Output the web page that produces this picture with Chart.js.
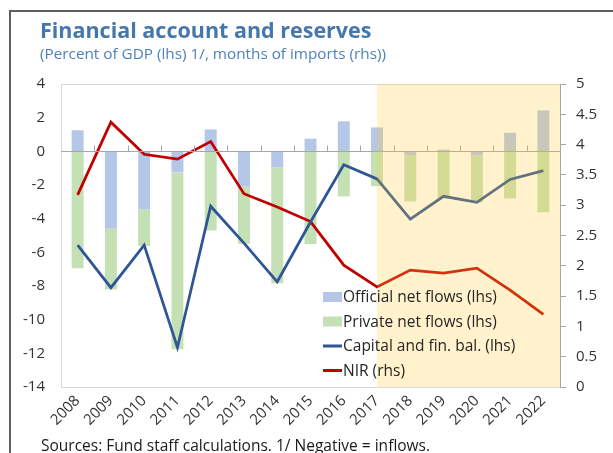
<!DOCTYPE html>
<html>
<head>
<meta charset="utf-8">
<script src="https://cdn.jsdelivr.net/npm/chart.js@4.4.1/dist/chart.umd.min.js"></script>
<style>
  html, body { margin: 0; padding: 0; background: #fff; }
  #wrap { position: relative; width: 613px; height: 453px; overflow: hidden; font-family: "Open Sans", sans-serif; }
  #frame { position: absolute; left: 9px; top: 10px; width: 700px; height: 500px; border-top: 2px solid #5f5f5f; border-left: 2px solid #5f5f5f; }
  canvas { position: absolute; left: 0; top: 0; }
  .t { position: absolute; white-space: nowrap; }
  #title { left: 40px; top: 15px; font-size: 21.5px; font-weight: bold; color: #4677ab; }
  #sub { left: 40px; top: 43px; font-size: 15.3px; color: #4f81bd; }
  #src { left: 41px; top: 434px; font-size: 15.5px; color: #1a1a1a; }
</style>
</head>
<body>
<div id="wrap">
  <div id="frame"></div>
  <canvas id="myChart" width="613" height="453"></canvas>
  <div class="t" id="title">Financial account and reserves</div>
  <div class="t" id="sub">(Percent of GDP (lhs) 1/, months of imports (rhs))</div>
  <div class="t" id="src">Sources: Fund staff calculations. 1/ Negative = inflows.</div>
</div>
<script>
// data
const years = ['2008', '2009', '2010', '2011', '2012', '2013', '2014', '2015',
               '2016', '2017', '2018', '2019', '2020', '2021', '2022'];
const officialFlows = [1.25, -4.6, -3.45, -1.25, 1.3, -2.1, -0.95, 0.75, 1.78, 1.42, -0.22, 0.1, -0.25, 1.1, 2.43];
const privateFlows  = [-6.95, -3.6, -2.18, -10.5, -4.7, -3.4, -6.88, -5.5, -2.68, -2.07, -2.76, -2.8, -2.79, -2.8, -3.62];
const capitalBal    = [-5.57, -8.1, -5.57, -11.65, -3.26, -5.45, -7.75, -4.2, -0.8, -1.64, -4.03, -2.67, -3.03, -1.67, -1.15];
const nir           = [3.17, 4.37, 3.84, 3.76, 4.05, 3.19, 2.97, 2.73, 2.01, 1.65, 1.93, 1.88, 1.96, 1.6, 1.2];
const projStart = '2017';

const lhsTicks = { min: -14, max: 4, step: 2 };
const rhsTicks = { min: 0, max: 5, step: 0.5 };

Chart.defaults.font.family = "'Open Sans', sans-serif";
Chart.defaults.font.size = 15;
Chart.defaults.color = '#333333';

// zero line, frame lines and tick marks on the category axis
const axisLines = {
  id: 'axisLines',
  beforeDatasetsDraw(chart) {
    const { ctx, chartArea: a } = chart;
    ctx.save();
    ctx.strokeStyle = '#d9d9d9';
    ctx.lineWidth = 1;
    ctx.beginPath();
    ctx.moveTo(a.left, a.top + 0.5);
    ctx.lineTo(a.right, a.top + 0.5);
    ctx.stroke();
    ctx.restore();
  },
  afterDatasetsDraw(chart) {
    const { ctx, chartArea: a, scales } = chart;
    const y0 = Math.round(scales.y.getPixelForValue(0)) + 0.5;
    ctx.save();
    ctx.strokeStyle = '#a6a6a6';
    ctx.lineWidth = 1;
    ctx.beginPath();
    ctx.moveTo(a.left, y0);
    ctx.lineTo(a.right, y0);
    const n = years.length;
    const w = (a.right - a.left) / n;
    for (let i = 1; i < n; i++) {
      const x = Math.round(a.left + i * w) + 0.5;
      ctx.moveTo(x, y0);
      ctx.lineTo(x, y0 - 6);
    }
    ctx.stroke();

    // projection shading
    const xs = scales.x.getPixelForValue(years.indexOf(projStart));
    ctx.fillStyle = 'rgba(255, 203, 51, 0.25)';
    ctx.fillRect(xs, a.top, a.right - xs, a.bottom - a.top);
    ctx.restore();
  }
};

// legend drawn inside the plot area
const innerLegend = {
  id: 'innerLegend',
  afterDraw(chart) {
    const { ctx, chartArea: a } = chart;
    const x0 = a.left + 262;
    let y = a.bottom - 90;
    ctx.save();
    ctx.font = "15.5px 'Open Sans', sans-serif";
    ctx.textBaseline = 'middle';
    ctx.textAlign = 'left';
    chart.data.datasets.forEach(ds => {
      if (ds.type === 'bar') {
        ctx.fillStyle = ds.backgroundColor;
        ctx.fillRect(x0, y - 5, 19, 10);
      } else {
        ctx.strokeStyle = ds.borderColor;
        ctx.lineWidth = 3;
        ctx.beginPath();
        ctx.moveTo(x0, y);
        ctx.lineTo(x0 + 19, y);
        ctx.stroke();
      }
      ctx.fillStyle = '#262626';
      ctx.fillText(ds.label, x0 + 20, y + 1);
      y += 24.5;
    });
    ctx.restore();
  }
};

const ctx = document.getElementById('myChart').getContext('2d');
const myChart = new Chart(ctx, {
  data: {
    labels: years,
    datasets: [
      { type: 'bar', label: 'Official net flows (lhs)', data: officialFlows,
        backgroundColor: '#b4c7e7', yAxisID: 'y', stack: 'flows', order: 2,
        barPercentage: 0.36, categoryPercentage: 1 },
      { type: 'bar', label: 'Private net flows (lhs)', data: privateFlows,
        backgroundColor: '#c5e0b4', yAxisID: 'y', stack: 'flows', order: 3,
        barPercentage: 0.36, categoryPercentage: 1 },
      { type: 'line', label: 'Capital and fin. bal. (lhs)', data: capitalBal,
        borderColor: '#2f5597', borderWidth: 2.75, pointRadius: 0, tension: 0,
        yAxisID: 'y', stack: 'bal', order: 0 },
      { type: 'line', label: 'NIR (rhs)', data: nir,
        borderColor: '#c00000', borderWidth: 2.75, pointRadius: 0, tension: 0,
        yAxisID: 'y2', order: 1 }
    ]
  },
  options: {
    responsive: false,
    animation: false,
    devicePixelRatio: 1,
    layout: { padding: { top: 84, left: 0, right: 0, bottom: 0 } },
    plugins: { legend: { display: false }, tooltip: { enabled: false } },
    scales: {
      x: {
        grid: { display: false, drawTicks: false },
        border: { display: true, color: '#d9d9d9' },
        ticks: { maxRotation: 45, minRotation: 45, padding: 5, autoSkip: false },
        afterFit(scale) { scale.height = 66; }
      },
      y: {
        position: 'left', stacked: true,
        min: lhsTicks.min, max: lhsTicks.max,
        grid: { display: false, drawTicks: false },
        border: { display: true, color: '#d9d9d9' },
        ticks: { stepSize: lhsTicks.step, padding: 16 },
        afterFit(scale) { scale.width = 61; }
      },
      y2: {
        position: 'right',
        min: rhsTicks.min, max: rhsTicks.max,
        grid: { display: true, drawOnChartArea: false, drawTicks: true, tickLength: 6, color: '#a6a6a6' },
        border: { display: true, color: '#a6a6a6' },
        ticks: { stepSize: rhsTicks.step, padding: 10, callback: v => String(v) },
        afterFit(scale) { scale.width = 53; }
      }
    }
  },
  plugins: [axisLines, innerLegend]
});
</script>
</body>
</html>
